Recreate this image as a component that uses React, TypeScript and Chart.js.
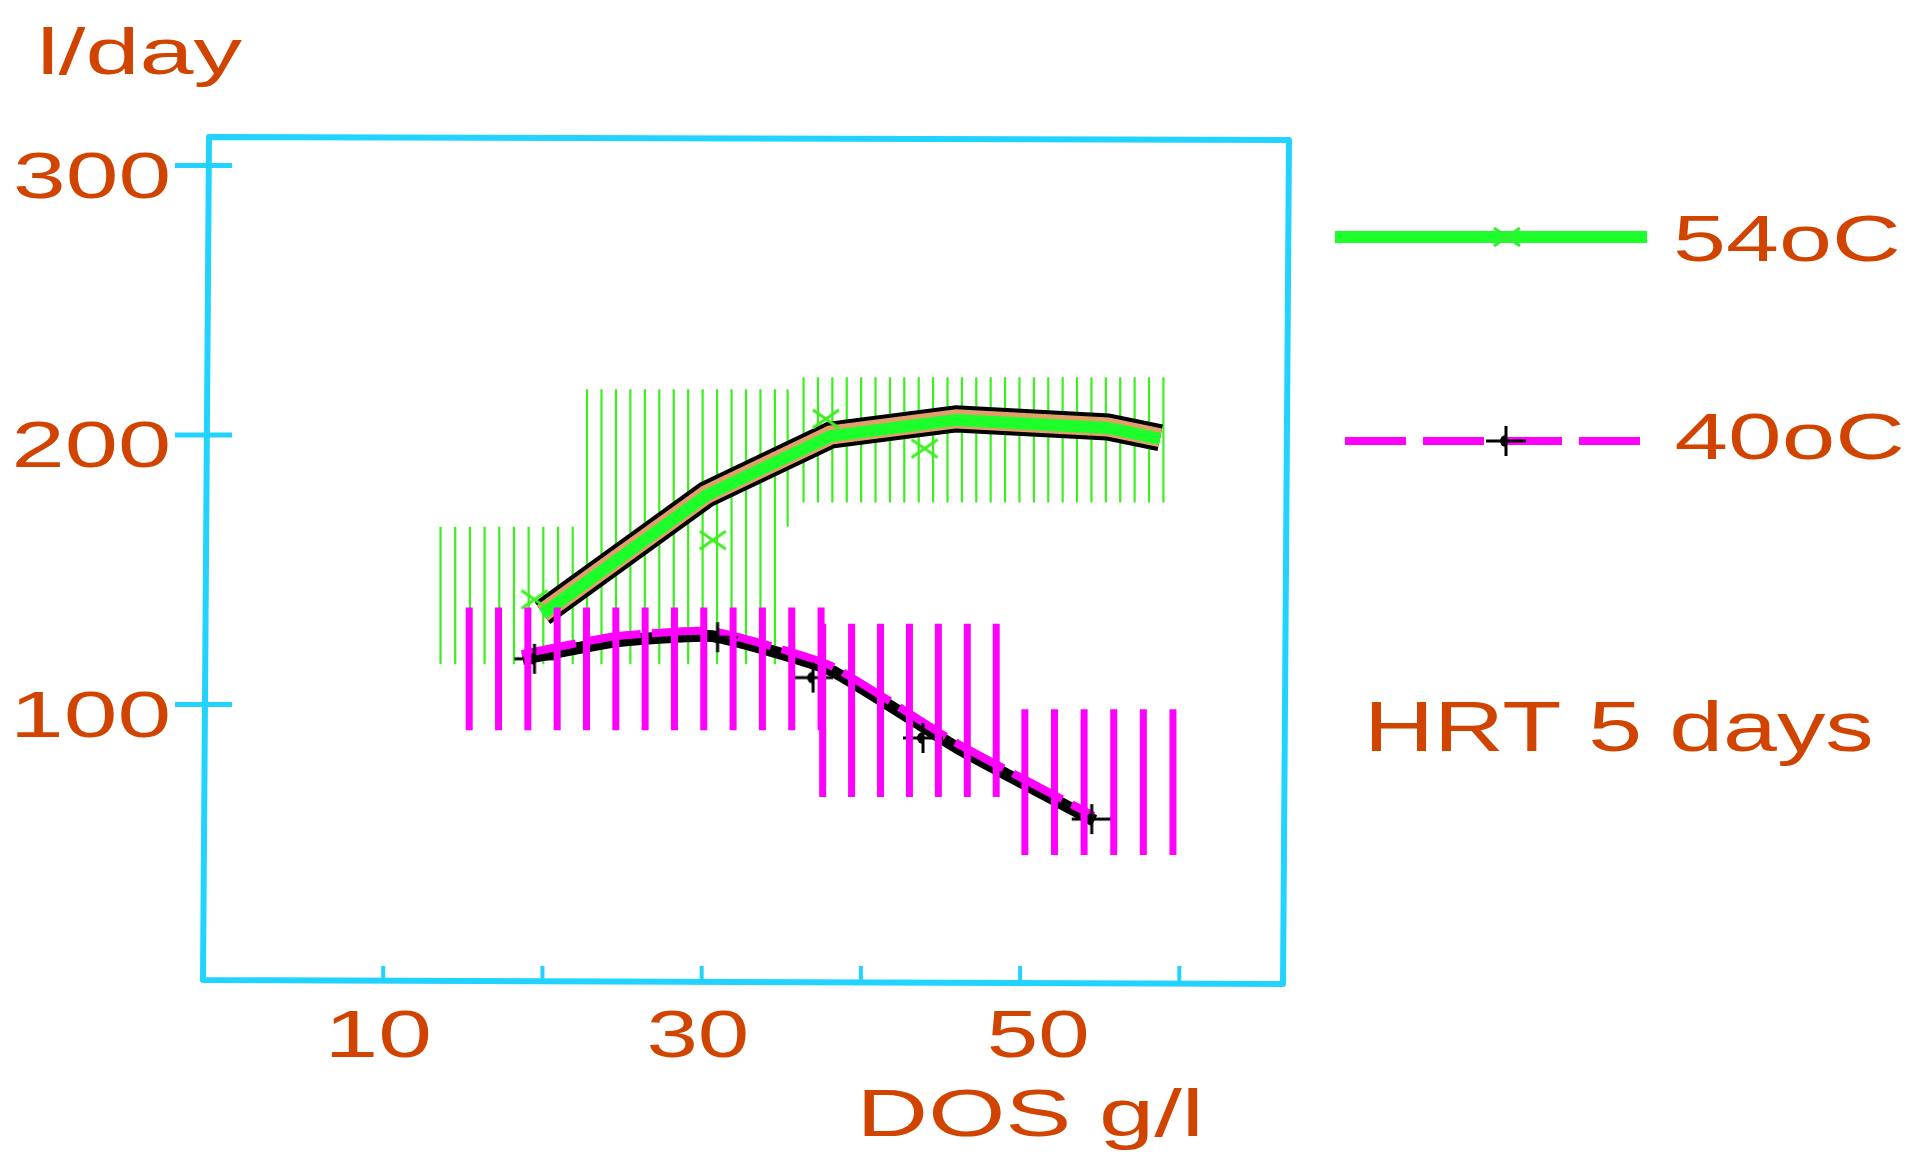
import React, { useEffect, useRef } from 'react';
import { Chart, registerables } from 'chart.js';

Chart.register(...registerables);

// ---------- data ----------
const DOS_54_FIT = [20, 30.3, 38.1, 46, 55.5, 58.8];
const L_54_FIT = [134, 178, 200, 206, 203, 199];
const DOS_54_PTS = [19.5, 30.7, 37.8, 44.0];
const L_54_PTS = [139, 161, 206, 195];

const DOS_40_FIT = [18.7, 24.5, 30.6, 38, 46, 54.6];
const L_40_FIT = [118, 124.5, 126.5, 114, 85, 58];
const DOS_40_PTS = [19.5, 31, 37, 43.9, 54.5];
const L_40_PTS = [117, 125, 110, 87.6, 57.5];

// error ranges (hatched)
const BAND_54_X0 = [13.6, 22.8, 35.4, 36.4];
const BAND_54_X1 = [21.9, 34.6, 35.4, 59.0];
const BAND_54_LO = [115, 115, 166, 175];
const BAND_54_HI = [166, 217, 217, 221.5];

const BAND_40_X0 = [15.4, 37.6, 50.3];
const BAND_40_X1 = [37.5, 48.5, 59.6];
const BAND_40_LO = [90.5, 65.7, 44.2];
const BAND_40_HI = [136, 130, 98.3];

const Y_TICKS = [100, 200, 300];
const Y_TICK_LABELS = ['100', '200', '300'];
const X_TICKS = [10, 20, 30, 40, 50, 60];
const X_LABEL_VALUES = [10, 30, 50];
const X_LABELS = ['10', '30', '50'];

const Y_TITLE = 'l/day';
const X_TITLE = 'DOS g/l';
const NAME_54 = '54oC';
const NAME_40 = '40oC';
const NOTE = 'HRT 5 days';

// ---------- styles ----------
const TEXT = '#D14400';
const CYAN = '#22D3FF';
const GREEN = '#1CFF2A';
const GREEN_HATCH = '#3CF020';
const TAN = '#E39F6A';
const MAGENTA = '#FF00FF';
const FONT = '"Liberation Sans", Arial, sans-serif';
const X_LABEL_NUDGE = [-3, -4, 18];

function stretchText(ctx: CanvasRenderingContext2D, text: string, x: number, baseline: number, size: number, width: number, align: 'left' | 'right' | 'center') {
  ctx.save();
  ctx.font = `${size}px ${FONT}`;
  ctx.textAlign = 'left';
  ctx.textBaseline = 'alphabetic';
  const m = ctx.measureText(text);
  const inkL = m.actualBoundingBoxLeft || 0;
  const inkW = (m.actualBoundingBoxRight || m.width) + inkL;
  const sx = width / inkW;
  let left = x;
  if (align === 'right') left = x - width;
  else if (align === 'center') left = x - width / 2;
  ctx.translate(left, baseline);
  ctx.scale(sx, 1);
  ctx.fillStyle = TEXT;
  ctx.fillText(text, inkL, 0);
  ctx.restore();
}

function makeXMarker(color: string) {
  const c = document.createElement('canvas');
  c.width = 30;
  c.height = 22;
  const g = c.getContext('2d')!;
  g.strokeStyle = color;
  g.lineWidth = 3;
  g.beginPath();
  g.moveTo(2, 2);
  g.lineTo(28, 20);
  g.moveTo(28, 2);
  g.lineTo(2, 20);
  g.stroke();
  return c;
}

function makePlusMarker() {
  const c = document.createElement('canvas');
  c.width = 42;
  c.height = 32;
  const g = c.getContext('2d')!;
  g.strokeStyle = '#000';
  g.lineWidth = 3;
  g.beginPath();
  g.moveTo(1, 16);
  g.lineTo(41, 16);
  g.moveTo(21, 1);
  g.lineTo(21, 31);
  g.stroke();
  g.fillStyle = '#000';
  g.beginPath();
  g.arc(21, 16, 6, Math.PI / 2, Math.PI * 1.5);
  g.fill();
  return c;
}

function drawBands(chart: any, x0s: number[], x1s: number[], los: number[], his: number[], color: string, width: number, step: number) {
  const { ctx, scales } = chart;
  const xs = scales.x;
  const ys = scales.y;
  ctx.save();
  ctx.strokeStyle = color;
  ctx.lineWidth = width;
  ctx.lineCap = 'butt';
  for (let i = 0; i < x0s.length; i++) {
    const a = xs.getPixelForValue(x0s[i]);
    const b = xs.getPixelForValue(x1s[i]);
    const top = ys.getPixelForValue(his[i]);
    const bot = ys.getPixelForValue(los[i]);
    const n = Math.max(0, Math.round((b - a) / step));
    const s = n ? (b - a) / n : 0;
    ctx.beginPath();
    for (let k = 0; k <= n; k++) {
      const px = a + k * s;
      ctx.moveTo(px, top);
      ctx.lineTo(px, bot);
    }
    ctx.stroke();
  }
  ctx.restore();
}

// pixel shifts giving the hand-drawn "shadow" look
const SHIFT: Record<string, [number, number]> = {
  '40oC shadow': [1, 3],
  '40oC': [0, -2],
  '54oC': [0, 1],
};

export default function App() {
  const ref = useRef<HTMLCanvasElement | null>(null);

  useEffect(() => {
    if (!ref.current) return;
    const xMark = makeXMarker(GREEN_HATCH);
    const xMarkLegend = makeXMarker('#33EE33');
    const plusMark = makePlusMarker();

    const pts = (xs: number[], ys: number[]) => xs.map((x, i) => ({ x, y: ys[i] }));

    const decor = {
      id: 'decor',
      beforeDatasetsDraw(chart: any) {
        drawBands(chart, BAND_54_X0, BAND_54_X1, BAND_54_LO, BAND_54_HI, GREEN_HATCH, 2.2, 14.5);
      },
      beforeDatasetDraw(chart: any, args: any) {
        const ds = chart.data.datasets[args.index];
        const sh = ds && SHIFT[ds.label];
        chart.ctx.save();
        if (sh) chart.ctx.translate(sh[0], sh[1]);
      },
      afterDatasetDraw(chart: any) {
        chart.ctx.restore();
      },
      afterDatasetsDraw(chart: any) {
        drawBands(chart, BAND_40_X0, BAND_40_X1, BAND_40_LO, BAND_40_HI, MAGENTA, 7, 29);
      },
      afterDraw(chart: any) {
        const { ctx, chartArea, scales } = chart;
        const xs = scales.x;
        const ys = scales.y;
        // frame
        ctx.save();
        ctx.strokeStyle = CYAN;
        ctx.lineWidth = 6;
        ctx.lineJoin = 'round';
        ctx.beginPath();
        ctx.moveTo(chartArea.left + 3, chartArea.top);
        ctx.lineTo(chartArea.right + 3, chartArea.top + 3);
        ctx.lineTo(chartArea.right - 3, chartArea.bottom + 4);
        ctx.lineTo(chartArea.left - 3, chartArea.bottom);
        ctx.closePath();
        ctx.stroke();
        // y ticks
        ctx.lineWidth = 5;
        ctx.beginPath();
        Y_TICKS.forEach((v) => {
          const py = ys.getPixelForValue(v);
          ctx.moveTo(chartArea.left - 31, py);
          ctx.lineTo(chartArea.left + 26, py);
        });
        ctx.stroke();
        // x ticks
        ctx.lineWidth = 4;
        ctx.beginPath();
        X_TICKS.forEach((v) => {
          const px = xs.getPixelForValue(v);
          ctx.moveTo(px, chartArea.bottom + 1);
          ctx.lineTo(px, chartArea.bottom - 14);
        });
        ctx.stroke();
        ctx.restore();

        // tick labels
        Y_TICKS.forEach((v, i) => {
          stretchText(ctx, Y_TICK_LABELS[i], chartArea.left - 38, ys.getPixelForValue(v) + 32, 65, 152, 'right');
        });
        X_LABEL_VALUES.forEach((v, i) => {
          stretchText(ctx, X_LABELS[i], xs.getPixelForValue(v) + X_LABEL_NUDGE[i], chartArea.bottom + 77, 67, 97, 'center');
        });

        // titles
        stretchText(ctx, Y_TITLE, 43, 74, 64, 199, 'left');
        stretchText(ctx, X_TITLE, 864, 1136, 67, 334, 'left');

        // legend
        ctx.save();
        ctx.strokeStyle = GREEN;
        ctx.lineWidth = 12;
        ctx.beginPath();
        ctx.moveTo(1335, 237);
        ctx.lineTo(1647, 237);
        ctx.stroke();
        ctx.drawImage(xMarkLegend, 1507 - 15, 237 - 11);
        ctx.strokeStyle = MAGENTA;
        ctx.lineWidth = 8;
        ctx.setLineDash([61, 17]);
        ctx.beginPath();
        ctx.moveTo(1345, 441);
        ctx.lineTo(1643, 441);
        ctx.stroke();
        ctx.setLineDash([]);
        ctx.drawImage(plusMark, 1506 - 21, 441 - 16);
        ctx.restore();
        stretchText(ctx, NAME_54, 1676, 261, 65, 222, 'left');
        stretchText(ctx, NAME_40, 1676, 459, 65, 226, 'left');
        stretchText(ctx, NOTE, 1371, 751, 70, 500, 'left');
      },
    };

    const chart = new Chart(ref.current, {
      type: 'line',
      data: {
        datasets: [
          {
            label: '54oC edge',
            data: pts(DOS_54_FIT, L_54_FIT),
            borderColor: '#000',
            borderWidth: 27,
            pointRadius: 0,
            borderCapStyle: 'butt',
            borderJoinStyle: 'miter',
            tension: 0,
            order: 10,
          },
          {
            label: '54oC tan',
            data: pts(DOS_54_FIT, L_54_FIT),
            borderColor: TAN,
            borderWidth: 19,
            pointRadius: 0,
            borderCapStyle: 'butt',
            borderJoinStyle: 'miter',
            tension: 0,
            order: 9,
          },
          {
            label: NAME_54,
            data: pts(DOS_54_FIT, L_54_FIT),
            borderColor: GREEN,
            borderWidth: 12,
            pointRadius: 0,
            borderCapStyle: 'butt',
            borderJoinStyle: 'miter',
            tension: 0,
            order: 8,
          },
          {
            label: '40oC shadow',
            data: pts(DOS_40_FIT, L_40_FIT),
            borderColor: '#000',
            borderWidth: 12,
            pointRadius: 0,
            borderCapStyle: 'butt',
            borderJoinStyle: 'round',
            tension: 0.15,
            order: 6,
          },
          {
            label: NAME_40,
            data: pts(DOS_40_FIT, L_40_FIT),
            borderColor: MAGENTA,
            borderWidth: 8,
            borderDash: [55, 11],
            pointRadius: 0,
            borderCapStyle: 'butt',
            tension: 0.15,
            order: 5,
          },
          {
            label: '54oC data',
            data: pts(DOS_54_PTS, L_54_PTS),
            showLine: false,
            pointStyle: xMark as any,
            pointRadius: 12,
            order: 2,
          },
          {
            label: '40oC data',
            data: pts(DOS_40_PTS, L_40_PTS),
            showLine: false,
            pointStyle: plusMark as any,
            pointRadius: 12,
            order: 1,
          },
        ],
      },
      options: {
        animation: false,
        responsive: false,
        devicePixelRatio: 1,
        events: [],
        layout: { padding: { left: 206, top: 137, right: 634, bottom: 172 } },
        plugins: { legend: { display: false }, tooltip: { enabled: false } },
        scales: {
          x: { type: 'linear', min: -1.13, max: 66.7, display: false },
          y: { type: 'linear', min: -2.2, max: 310.6, display: false },
        },
      },
      plugins: [decor],
    } as any);

    return () => chart.destroy();
  }, []);

  return (
    <div style={{ position: 'absolute', left: 0, top: 0, width: 1920, height: 1152, background: '#fff' }}>
      <canvas ref={ref} width={1920} height={1152} style={{ display: 'block', width: 1920, height: 1152 }} />
    </div>
  );
}
